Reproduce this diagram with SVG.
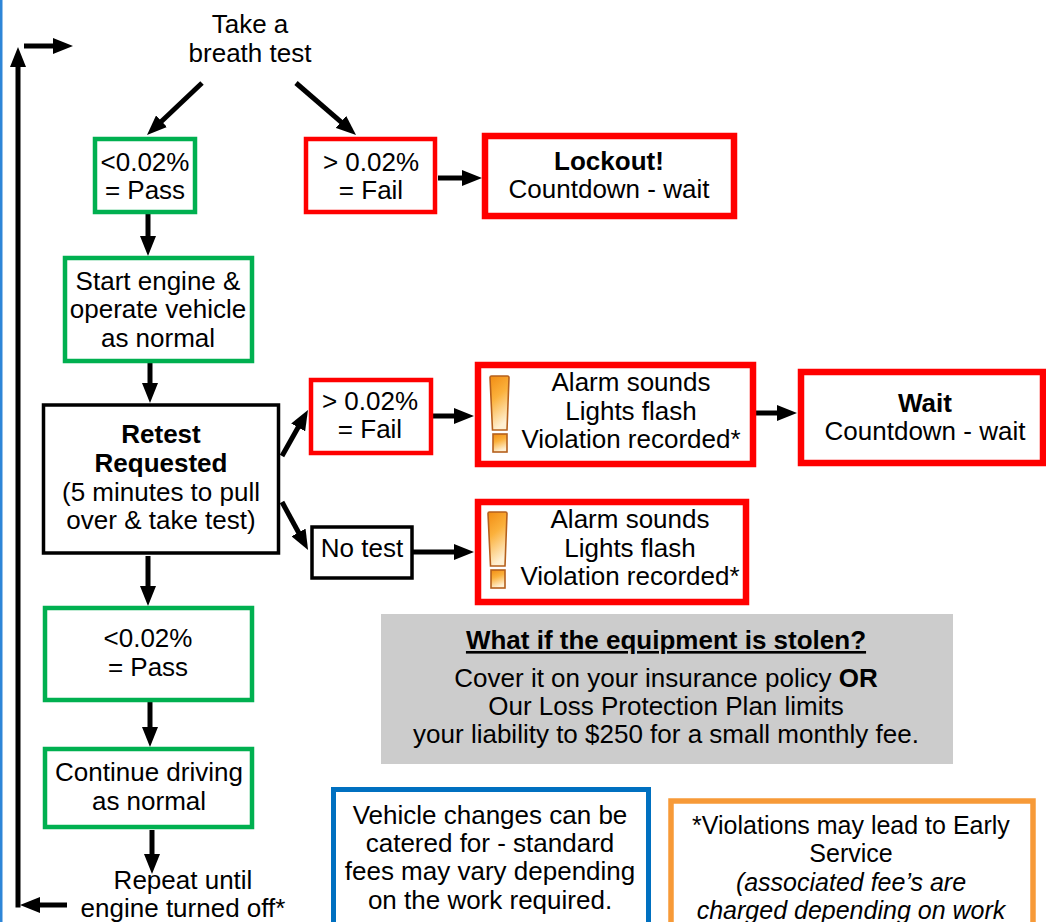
<svg xmlns="http://www.w3.org/2000/svg" width="1046" height="922" viewBox="0 0 1046 922">
<style>
text{font-family:"Liberation Sans",Arial,sans-serif;font-size:26px;fill:#000;text-anchor:middle}
.b{font-weight:bold}
.i{font-style:italic}
.s{font-size:25px}
.g{fill:#fff;stroke:#00b050;stroke-width:4.5}
.r{fill:#fff;stroke:#ff0000;stroke-width:4.5}
.R{fill:#fff;stroke:#ff0000;stroke-width:6.5}
.k{fill:#fff;stroke:#000;stroke-width:3.5}
.c{fill:none;stroke:#000;stroke-width:5}
</style>
<defs>
<marker id="ah" markerUnits="userSpaceOnUse" markerWidth="20" markerHeight="16" refX="5" refY="8" orient="auto">
<path d="M0,0 L20,8 L0,16 Z" fill="#000"/>
</marker>
<linearGradient id="og" x1="0" y1="0" x2="0.3" y2="1">
<stop offset="0" stop-color="#f28c12"/>
<stop offset="0.45" stop-color="#fbb13c"/>
<stop offset="1" stop-color="#fff0d2"/>
</linearGradient>
<g id="icon">
<path d="M1.5,0 H17.5 Q19,0 19,1.5 L17,54 H2.5 L0,1.5 Q0,0 1.5,0 Z" fill="url(#og)" stroke="#b5601c" stroke-width="1.6"/>
<rect x="3" y="58" width="14" height="18" fill="url(#og)" stroke="#b5601c" stroke-width="1.6"/>
</g>
</defs>
<rect x="0" y="0" width="2.5" height="922" fill="#2e86d8"/>

<g id="connectors">
<line class="c" x1="202" y1="83" x2="157.9" y2="124.7" marker-end="url(#ah)"/>
<line class="c" x1="296" y1="83" x2="344.7" y2="125.2" marker-end="url(#ah)"/>
<line class="c" x1="438" y1="178" x2="467" y2="178" marker-end="url(#ah)"/>
<line class="c" x1="148" y1="214" x2="148" y2="241" marker-end="url(#ah)"/>
<line class="c" x1="150" y1="363" x2="150" y2="388" marker-end="url(#ah)"/>
<line class="c" x1="282" y1="456" x2="300.6" y2="423.1" marker-end="url(#ah)"/>
<line class="c" x1="433" y1="416" x2="459" y2="416" marker-end="url(#ah)"/>
<line class="c" x1="756" y1="413" x2="782" y2="413" marker-end="url(#ah)"/>
<line class="c" x1="282" y1="502" x2="300.9" y2="536.8" marker-end="url(#ah)"/>
<line class="c" x1="413" y1="552" x2="459" y2="552" marker-end="url(#ah)"/>
<line class="c" x1="148" y1="556" x2="148" y2="591" marker-end="url(#ah)"/>
<line class="c" x1="150" y1="702" x2="150" y2="732" marker-end="url(#ah)"/>
<line class="c" x1="152" y1="830" x2="152" y2="859" marker-end="url(#ah)"/>
<line class="c" x1="67" y1="905" x2="35" y2="905" marker-end="url(#ah)"/>
<line class="c" x1="18" y1="907.5" x2="18" y2="62" marker-end="url(#ah)"/>
<line class="c" x1="24" y1="46" x2="58" y2="46" marker-end="url(#ah)"/>
</g>

<g id="start">
<text x="250" y="33">Take a</text>
<text x="250" y="62">breath test</text>
</g>
<g id="pass1">
<rect class="g" x="95" y="139" width="100" height="73"/>
<text x="145" y="171">&lt;0.02%</text>
<text x="145" y="199">= Pass</text>
</g>
<g id="fail1">
<rect class="r" x="306" y="139" width="129" height="73"/>
<text x="371" y="171">&gt; 0.02%</text>
<text x="371" y="199">= Fail</text>
</g>
<g id="lockout">
<rect class="R" x="485" y="136" width="249" height="80"/>
<text class="b" x="609" y="170">Lockout!</text>
<text x="609" y="198">Countdown - wait</text>
</g>
<g id="startEngine">
<rect class="g" x="65" y="258" width="187" height="103"/>
<text x="158" y="290">Start engine &amp;</text>
<text x="158" y="318">operate vehicle</text>
<text x="158" y="347">as normal</text>
</g>
<g id="retest">
<rect class="k" x="43.5" y="405" width="235" height="148"/>
<text class="b" x="161" y="443">Retest</text>
<text class="b" x="161" y="472">Requested</text>
<text x="161" y="501">(5 minutes to pull</text>
<text x="161" y="529">over &amp; take test)</text>
</g>
<g id="fail2">
<rect class="r" x="311" y="380" width="120" height="73"/>
<text x="370" y="410">&gt; 0.02%</text>
<text x="370" y="438">= Fail</text>
</g>
<g id="alarm1">
<rect class="R" x="478" y="365" width="275" height="99"/>
<use href="#icon" x="490" y="376"/>
<text x="631" y="391">Alarm sounds</text>
<text x="631" y="420">Lights flash</text>
<text x="631" y="448">Violation recorded*</text>
</g>
<g id="wait">
<rect class="R" x="801" y="372" width="242" height="91"/>
<text class="b" x="925" y="412">Wait</text>
<text x="925" y="440">Countdown - wait</text>
</g>
<g id="notest">
<rect class="k" x="312" y="527" width="100" height="51"/>
<text x="362" y="557">No test</text>
</g>
<g id="alarm2">
<rect class="R" x="478" y="502" width="268" height="100"/>
<use href="#icon" x="488" y="512"/>
<text x="630" y="528">Alarm sounds</text>
<text x="630" y="557">Lights flash</text>
<text x="630" y="585">Violation recorded*</text>
</g>
<g id="pass2">
<rect class="g" x="45" y="608" width="207" height="92"/>
<text x="148" y="647">&lt;0.02%</text>
<text x="148" y="676">= Pass</text>
</g>
<g id="continue">
<rect class="g" x="45" y="749" width="207" height="78"/>
<text x="149" y="781">Continue driving</text>
<text x="149" y="810">as normal</text>
</g>
<g id="repeat">
<text x="183" y="889">Repeat until</text>
<text x="183" y="917">engine turned off*</text>
</g>
<g id="stolen">
<rect x="381" y="614" width="572" height="150" fill="#cccccc"/>
<text class="b" x="666" y="649" text-decoration="underline">What if the equipment is stolen?</text>
<text x="666" y="687">Cover it on your insurance policy <tspan class="b">OR</tspan></text>
<text x="666" y="715">Our Loss Protection Plan limits</text>
<text x="666" y="743">your liability to $250 for a small monthly fee.</text>
</g>
<g id="vehicle">
<rect x="333.5" y="789.5" width="315" height="200" fill="#fff" stroke="#0070c0" stroke-width="5"/>
<text x="490" y="824">Vehicle changes can be</text>
<text x="490" y="852">catered for - standard</text>
<text x="490" y="880">fees may vary depending</text>
<text x="490" y="909">on the work required.</text>
</g>
<g id="violations">
<rect x="671" y="801" width="362" height="200" fill="#fff" stroke="#f79a38" stroke-width="5.5"/>
<text class="s" x="851" y="834">*Violations may lead to Early</text>
<text class="s" x="851" y="862">Service</text>
<text class="i s" x="851" y="891">(associated fee’s are</text>
<text class="i s" x="851" y="919">charged depending on work</text>
</g>
</svg>
